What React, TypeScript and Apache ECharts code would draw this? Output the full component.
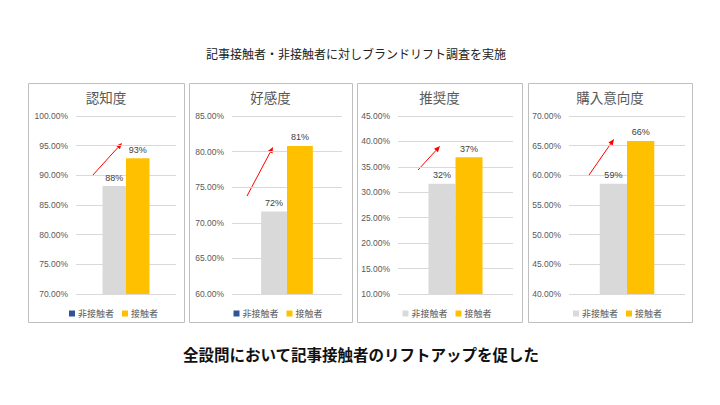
import React, { useEffect, useRef } from "react";
import * as echarts from "echarts";

const categories = [""];
const seriesNames = ["非接触者", "接触者"];
const panelTitles = ["認知度", "好感度", "推奨度", "購入意向度"];
const nonContact = [88.2, 71.6, 31.7, 58.6];
const contact = [92.9, 80.8, 36.9, 65.8];
const yMin = [70, 60, 10, 40];
const yMax = [100, 85, 45, 70];
const yInterval = 5;
const legendSwatch = ["#2F5597", "#2F5597", "#D9D9D9", "#D9D9D9"];
const headerText = "記事接触者・非接触者に対しブランドリフト調査を実施";
const footerText = "全設問において記事接触者のリフトアップを促した";

const FONT = '"Liberation Sans", Arial, "Noto Sans CJK JP", sans-serif';
const JFONT = '"Noto Sans CJK JP", sans-serif';

// layout (pixels)
const panels = [
  { x0: 28, x1: 184, gl: 76, gr: 176 },
  { x0: 189, x1: 352, gl: 232, gr: 342 },
  { x0: 357, x1: 522, gl: 398, gr: 513 },
  { x0: 528, x1: 692, gl: 569, gr: 685 },
];
const panelTop = 83;
const panelBottom = 322;
const gridTop = 116;
const gridHeight = 178;
const arrows = [
  [92, 176, 122, 143],
  [247, 196, 273, 147],
  [418, 170, 440, 146],
  [589, 175, 614, 139],
];

function arrowGraphic(a: number[]) {
  const [x1, y1, x2, y2] = a;
  const dx = x2 - x1;
  const dy = y2 - y1;
  const len = Math.sqrt(dx * dx + dy * dy);
  const ux = dx / len;
  const uy = dy / len;
  const hl = 6;
  const hw = 2.6;
  const bx = x2 - ux * hl;
  const by = y2 - uy * hl;
  return [
    {
      type: "line",
      shape: { x1, y1, x2: bx, y2: by },
      style: { stroke: "#FF0000", lineWidth: 1 },
      silent: true,
    },
    {
      type: "polygon",
      shape: {
        points: [
          [x2, y2],
          [bx - uy * hw, by + ux * hw],
          [bx + uy * hw, by - ux * hw],
        ],
      },
      style: { fill: "#FF0000" },
      silent: true,
    },
  ];
}

export default function App() {
  const ref = useRef<HTMLDivElement>(null);
  useEffect(() => {
    if (!ref.current) return;
    const chart = echarts.init(ref.current, undefined, { renderer: "svg" });
    const grids: any[] = [];
    const xAxes: any[] = [];
    const yAxes: any[] = [];
    const series: any[] = [];
    const legends: any[] = [];
    const graphics: any[] = [];

    panels.forEach((p, i) => {
      grids.push({
        left: p.gl,
        width: p.gr - p.gl,
        top: gridTop,
        height: gridHeight,
      });
      xAxes.push({
        type: "category",
        gridIndex: i,
        data: categories,
        axisLine: { show: false },
        axisTick: { show: false },
        axisLabel: { show: false },
      });
      yAxes.push({
        type: "value",
        gridIndex: i,
        min: yMin[i],
        max: yMax[i],
        interval: yInterval,
        axisLine: { show: false },
        axisTick: { show: false },
        splitLine: { lineStyle: { color: "#D9D9D9", width: 1 } },
        axisLabel: {
          formatter: (v: number) => v.toFixed(2) + "%",
          fontSize: 8.5,
          color: "#595959",
          fontFamily: FONT,
          margin: 8,
        },
      });
      const label = {
        show: true,
        position: "top",
        distance: 4,
        formatter: (d: any) => Math.round(d.value) + "%",
        fontSize: 9,
        color: "#404040",
        fontFamily: FONT,
      };
      series.push({
        type: "bar",
        name: seriesNames[0],
        xAxisIndex: i,
        yAxisIndex: i,
        data: [nonContact[i]],
        barWidth: "23.5%",
        barGap: "0%",
        itemStyle: { color: "#D9D9D9" },
        label,
      });
      series.push({
        type: "bar",
        name: seriesNames[1],
        xAxisIndex: i,
        yAxisIndex: i,
        data: [contact[i]],
        barWidth: "23.5%",
        barGap: "0%",
        itemStyle: { color: "#FFC000" },
        label,
      });
      const cx = (p.x0 + p.x1) / 2;
      legends.push({
        left: cx - 42,
        top: 304,
        icon: "rect",
        itemWidth: 6,
        itemHeight: 6,
        itemGap: 8,
        selectedMode: false,
        textStyle: { fontSize: 9, color: "#595959", fontFamily: JFONT, padding: [0, 0, 0, -2] },
        data: [
          { name: seriesNames[0], itemStyle: { color: legendSwatch[i] } },
          { name: seriesNames[1], itemStyle: { color: "#FFC000" } },
        ],
      });
      graphics.push({
        type: "rect",
        shape: { x: p.x0 + 0.5, y: panelTop + 0.5, width: p.x1 - p.x0, height: panelBottom - panelTop },
        style: { fill: "none", stroke: "#BFBFBF", lineWidth: 1 },
        silent: true,
        z: -1,
      });
      graphics.push({
        type: "text",
        x: cx,
        y: 97,
        style: {
          text: panelTitles[i],
          fontSize: 13.5,
          fontFamily: JFONT,
          fill: "#595959",
          textAlign: "center",
          textVerticalAlign: "middle",
        },
      });
      graphics.push(...arrowGraphic(arrows[i]));
    });

    graphics.push({
      type: "text",
      x: 356,
      y: 53,
      style: {
        text: headerText,
        fontSize: 12,
        fontFamily: JFONT,
        fill: "#222222",
        textAlign: "center",
        textVerticalAlign: "middle",
      },
    });
    graphics.push({
      type: "text",
      x: 361,
      y: 354,
      style: {
        text: footerText,
        fontSize: 15.5,
        fontWeight: "bold",
        fontFamily: JFONT,
        fill: "#111111",
        textAlign: "center",
        textVerticalAlign: "middle",
      },
    });

    chart.setOption({
      animation: false,
      backgroundColor: "#FFFFFF",
      grid: grids,
      xAxis: xAxes,
      yAxis: yAxes,
      legend: legends,
      series,
      graphic: { elements: graphics },
    });
    return () => chart.dispose();
  }, []);
  return (
    <div
      ref={ref}
      style={{ position: "fixed", left: 0, top: 0, width: 720, height: 405, background: "#fff" }}
    />
  );
}
